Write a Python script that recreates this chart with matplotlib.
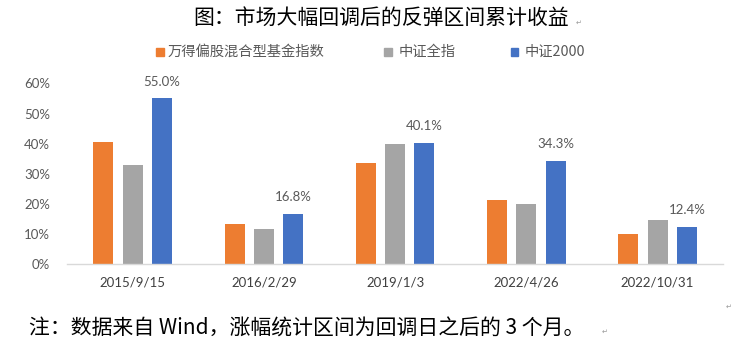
import matplotlib
matplotlib.use('Agg')
import matplotlib.pyplot as plt
import numpy as np

plt.rcParams['font.family'] = ['Noto Sans CJK SC', 'DejaVu Sans']

# 回调日期与三个指数在之后 3 个月的累计涨幅（%）
dates = ['2015/9/15', '2016/2/29', '2019/1/3', '2022/4/26', '2022/10/31']
fund_index = [40.6, 13.4, 33.5, 21.4, 10.0]
csi_all = [32.8, 11.8, 39.8, 19.9, 14.8]
csi_2000 = [55.0, 16.8, 40.1, 34.3, 12.4]
series_names = ['万得偏股混合型基金指数', '中证全指', '中证2000']
yticks = [0, 10, 20, 30, 40, 50, 60]

colors = ['#ED7D31', '#A5A5A5', '#4472C4']
label_color = '#595959'

fig = plt.figure(figsize=(7.5, 3.48), dpi=100)
fig.patch.set_facecolor('white')
ax = fig.add_axes([0.0893, 0.2405, 0.875, 0.520])

x = np.arange(len(dates))
width = 0.152
step = 0.223
all_series = [fund_index, csi_all, csi_2000]
for i, (vals, c) in enumerate(zip(all_series, colors)):
    ax.bar(x + (i - 1) * step, vals, width=width, color=c, zorder=2)

# 只给中证2000标注数值
for xi, v in zip(x, csi_2000):
    ax.text(xi + step, v + 5.6, f'{v:.1f}%', ha='center', va='center',
            fontsize=9.5, color=label_color, family=['Lato', 'DejaVu Sans'],
            clip_on=False)

ax.set_xlim(-0.5, len(dates) - 0.5)
ax.set_ylim(0, 60)
ax.set_yticks(yticks)
ax.set_yticklabels([f'{t}%' for t in yticks], fontsize=9.5, color=label_color,
                   family=['Lato', 'DejaVu Sans'])
ax.set_xticks(x)
ax.set_xticklabels(dates, fontsize=9.5, color='#404040',
                   family=['Lato', 'DejaVu Sans'])
ax.tick_params(axis='both', length=0)
ax.tick_params(axis='y', pad=12)
ax.tick_params(axis='x', pad=9)
for s in ['top', 'right', 'left']:
    ax.spines[s].set_visible(False)
ax.spines['bottom'].set_color('#D9D9D9')
ax.spines['bottom'].set_linewidth(1.0)

# 标题
fig.text(0.508, 0.950, '图：市场大幅回调后的反弹区间累计收益', ha='center', va='center',
         fontsize=15, color='black')
fig.text(0.768, 0.935, '↵', ha='left', va='center', fontsize=5, color='#999999')

# 图例
legend_items = [(0.213, 0.224), (0.517, 0.531), (0.686, 0.699)]
for (mx, tx), name, c in zip(legend_items, series_names, colors):
    fig.patches.append(plt.Rectangle((mx - 0.005, 0.840), 0.010, 0.022,
                                     transform=fig.transFigure, color=c))
    fig.text(tx, 0.851, name, ha='left', va='center', fontsize=10.3,
             color=label_color)

# 注释
fig.text(0.039, 0.057, '注：数据来自 Wind，涨幅统计区间为回调日之后的 3 个月。',
         ha='left', va='center', fontsize=15, color='black')
fig.text(0.802, 0.046, '↵', ha='left', va='center', fontsize=5, color='#999999')
fig.text(0.968, 0.118, '↵', ha='left', va='center', fontsize=5, color='#999999')

fig.savefig('out.png', dpi=100)
